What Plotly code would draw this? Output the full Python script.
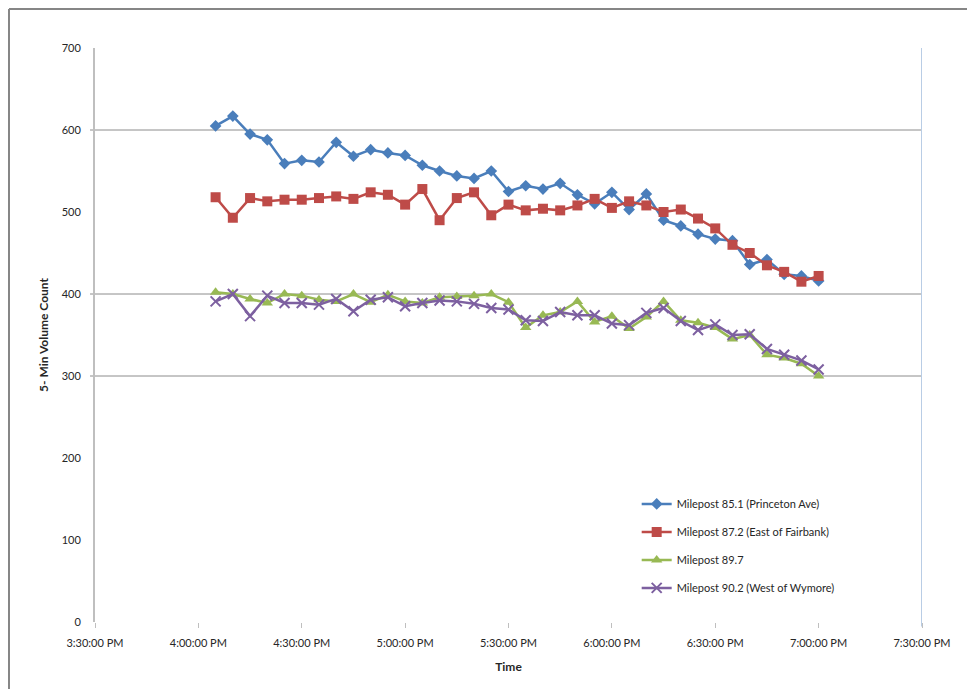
import pandas as pd
import plotly.graph_objects as go

# 5-minute bins, 4:05 PM to 7:00 PM
times = pd.date_range("2010-01-01 16:05", "2010-01-01 19:00", freq="5min")

mp_85_1 = [605, 617, 595, 588, 559, 563, 561, 585, 568, 576, 572, 569,
           557, 550, 544, 541, 550, 525, 532, 528, 535, 521, 510, 524,
           503, 522, 490, 483, 473, 467, 465, 436, 442, 424, 422, 416]
mp_87_2 = [518, 493, 517, 513, 515, 515, 517, 519, 516, 524, 521, 509,
           528, 490, 517, 524, 496, 509, 502, 504, 502, 508, 516, 505,
           513, 508, 500, 503, 492, 480, 460, 450, 435, 427, 415, 422]
mp_89_7 = [402, 400, 394, 389, 400, 398, 393, 391, 400, 390, 399, 391,
           389, 396, 397, 398, 400, 390, 359, 374, 378, 391, 366, 373,
           358, 372, 391, 368, 365, 359, 345, 350, 326, 322, 315, 300]
mp_90_2 = [391, 400, 373, 398, 389, 389, 387, 394, 379, 393, 396, 385,
           389, 392, 391, 388, 383, 381, 368, 367, 378, 374, 374, 364,
           362, 377, 383, 367, 356, 363, 350, 351, 333, 326, 319, 308]

names = ["Milepost 85.1 (Princeton Ave)", "Milepost 87.2 (East of Fairbank)",
         "Milepost 89.7", "Milepost 90.2 (West of Wymore)"]
series = [mp_85_1, mp_87_2, mp_89_7, mp_90_2]
colors = ["#4A7EBB", "#BE4B48", "#98B954", "#7D60A0"]
symbols = ["diamond", "square", "triangle-up", "x-thin"]
sizes = [9, 10, 10, 10]

grid_values = [300, 400, 600]
x_start, x_end = "2010-01-01 15:30", "2010-01-01 19:30"

FONT = "Lato, Open Sans, sans-serif"

fig = go.Figure()
for i, (name, vals) in enumerate(zip(names, series)):
    marker = dict(symbol=symbols[i], size=sizes[i], color=colors[i])
    if symbols[i] == "x-thin":
        marker["line"] = dict(color=colors[i], width=2)
    fig.add_trace(go.Scatter(
        x=times, y=vals, name=name, mode="lines+markers",
        line=dict(color=colors[i], width=2.5),
        marker=marker, legendgroup=str(i),
    ))

shapes = []
for g in grid_values:
    shapes.append(dict(type="line", xref="paper", yref="y", x0=-0.006, x1=1,
                       y0=g, y1=g, line=dict(color="#8C8C8C", width=1), layer="below"))
# right-hand border line of the plot area
shapes.append(dict(type="line", xref="x", yref="paper", x0=x_end, x1=x_end,
                   y0=-0.008, y1=1, line=dict(color="#B9CDE5", width=2)))
# outer chart frame (left and top edges)
shapes.append(dict(type="line", xref="paper", yref="paper", x0=-0.104, x1=1.1,
                   y0=1.068, y1=1.068, line=dict(color="#868686", width=2)))
shapes.append(dict(type="line", xref="paper", yref="paper", x0=-0.104, x1=-0.104,
                   y0=1.068, y1=-0.2, line=dict(color="#868686", width=2)))

fig.update_layout(
    width=975, height=689,
    margin=dict(l=87, r=61, t=40, b=75),
    paper_bgcolor="white", plot_bgcolor="white",
    font=dict(family=FONT, size=11, color="#262626"),
    shapes=shapes,
    showlegend=True,
    legend=dict(x=0.655, y=0.231, xanchor="left", yanchor="top",
                bgcolor="rgba(0,0,0,0)", tracegroupgap=9,
                font=dict(size=11, color="#262626")),
    xaxis=dict(
        type="date", range=[x_start, x_end], dtick=30 * 60 * 1000,
        tick0=x_start, tickformat="%-I:%M:%S %p",
        showgrid=False, showline=False, zeroline=False,
        ticks="outside", ticklen=5, tickcolor="#BFBFBF", tickwidth=1,
        ticklabelstandoff=6,
        title=dict(text="<b>Time</b>", standoff=14, font=dict(size=12, color="#262626")),
    ),
    yaxis=dict(
        range=[0, 700], dtick=100, showgrid=False, zeroline=False,
        showline=True, linecolor="#BFBFBF", linewidth=2,
        ticks="", ticklabelstandoff=10,
        title=dict(text="<b>5- Min Volume Count</b>", standoff=10,
                   font=dict(size=12, color="#262626")),
    ),
)

fig.write_html("out.html")
